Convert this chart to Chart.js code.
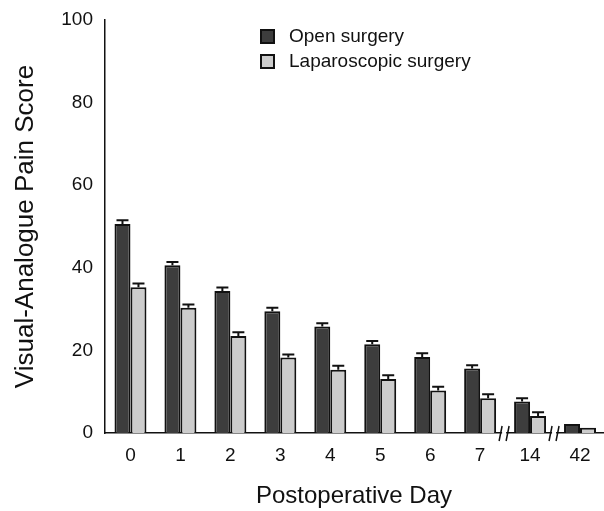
<!DOCTYPE html>
<html lang="en">
<head>
<meta charset="UTF-8">
<title>Visual-Analogue Pain Score</title>
<style>
  html,body{margin:0;padding:0;background:#fff}
  #wrap{width:604px;height:511px;position:relative}
</style>
</head>
<body>
<div id="wrap"><canvas id="painChart"></canvas></div>
<script src="https://cdn.jsdelivr.net/npm/chart.js@4.4.1"></script>
<script>
/* ---------- data ---------- */
const days      = ['0','1','2','3','4','5','6','7','14','42'];
const openMean  = [50.6, 40.6, 34.4, 29.5, 25.8, 21.5, 18.4, 15.6, 7.6, 2.2];
const openErr   = [0.9, 0.8, 0.8, 0.8, 0.8, 0.8, 0.9, 0.8, 0.8, 0];
const lapMean   = [35.3, 30.3, 23.5, 18.3, 15.3, 13.1, 10.3, 8.4, 4.1, 1.3];
const lapErr    = [0.9, 0.8, 0.9, 0.7, 1.0, 0.9, 0.9, 1.0, 0.9, 0];
const yTicks    = [0, 20, 40, 60, 80, 100];
const breaksAfter = [7, 8];   // axis breaks after these category indexes

const FONT = "'Liberation Sans', Arial, Helvetica, sans-serif";
const DARK  = '#3d3d3d';
const LIGHT = '#cccccc';

const toPoints = arr => arr.map((v, i) => ({x: i, y: v}));

/* upper error bars only, like the original */
const errorBarPlugin = {
  id:'errorBars',
  afterDatasetsDraw(chart){
    const {ctx} = chart;
    const y = chart.scales.y;
    const errs = [openErr, lapErr];
    const means = [openMean, lapMean];
    ctx.save();
    ctx.strokeStyle = '#111';
    ctx.lineWidth = 2;
    chart.data.datasets.forEach((ds, d)=>{
      chart.getDatasetMeta(d).data.forEach((bar, i)=>{
        const e = errs[d][i];
        if(!e) return;
        const top = y.getPixelForValue(means[d][i] + e);
        ctx.beginPath();
        ctx.moveTo(bar.x, bar.y);
        ctx.lineTo(bar.x, top);
        ctx.moveTo(bar.x - 6, top);
        ctx.lineTo(bar.x + 6, top);
        ctx.stroke();
      });
    });
    ctx.restore();
  }
};

/* axis break marks "//" */
const breakPlugin = {
  id:'axisBreaks',
  afterDraw(chart){
    const {ctx} = chart;
    const x = chart.scales.x;
    const yb = chart.chartArea.bottom;
    ctx.save();
    breaksAfter.forEach(i=>{
      const cx = x.getPixelForValue(i + 0.5) - 1;
      ctx.fillStyle = '#fff';
      ctx.fillRect(cx - 2, yb - 2, 4, 4);
      ctx.strokeStyle = '#111';
      ctx.lineWidth = 1.5;
      ctx.beginPath();
      ctx.moveTo(cx - 5, yb + 8); ctx.lineTo(cx - 2, yb - 7);
      ctx.moveTo(cx + 2, yb + 8); ctx.lineTo(cx + 5, yb - 7);
      ctx.stroke();
    });
    ctx.restore();
  }
};

/* legend drawn inside the plot, stacked */
const legendPlugin = {
  id:'innerLegend',
  afterDraw(chart){
    const {ctx} = chart;
    ctx.save();
    ctx.font = '19px ' + FONT;
    ctx.textBaseline = 'middle';
    chart.data.datasets.forEach((ds, d)=>{
      const top = 30 + d * 25;
      ctx.fillStyle = ds.backgroundColor;
      ctx.fillRect(261, top, 13, 13);
      ctx.strokeStyle = '#111';
      ctx.lineWidth = 2;
      ctx.strokeRect(261, top, 13, 13);
      ctx.fillStyle = '#111';
      ctx.fillText(ds.label, 289, top + 7);
    });
    ctx.restore();
  }
};

new Chart(document.getElementById('painChart'), {
  type:'bar',
  data:{
    datasets:[
      {label:'Open surgery', data: toPoints(openMean), backgroundColor: DARK,
       borderColor:'#111', borderWidth:2},
      {label:'Laparoscopic surgery', data: toPoints(lapMean), backgroundColor: LIGHT,
       borderColor:'#111', borderWidth:2}
    ]
  },
  options:{
    responsive:true,
    maintainAspectRatio:false,
    animation:false,
    categoryPercentage:0.64,
    barPercentage:1.0,
    layout:{padding:{top:20, right:1, left:0, bottom:0}},
    plugins:{legend:{display:false}, tooltip:{enabled:false}},
    scales:{
      x:{
        type:'linear',
        offset:false,
        min:-0.51, max:9.46,
        afterBuildTicks(s){ s.ticks = days.map((d, i)=>({value:i})); },
        grid:{display:false, drawTicks:false},
        border:{color:'#111', width:1.5},
        ticks:{color:'#111', font:{family:FONT, size:19}, padding:11,
               callback:v => days[v]},
        title:{display:true, text:'Postoperative Day', color:'#111',
               font:{family:FONT, size:24}, padding:0},
        afterFit(s){ s.height = 78; }
      },
      y:{
        min:0, max:100,
        afterBuildTicks(s){ s.ticks = yTicks.map(v=>({value:v})); },
        grid:{display:false, drawOnChartArea:false, drawTicks:true,
              tickLength:7, tickColor:'#111', tickWidth:1.5},
        border:{color:'#111', width:1.5},
        ticks:{color:'#111', font:{family:FONT, size:19}, padding:5},
        title:{display:true, text:'Visual-Analogue Pain Score', color:'#111',
               font:{family:FONT, size:26}, padding:{top:10, bottom:0}},
        afterFit(s){ s.width = 105; }
      }
    }
  },
  plugins:[errorBarPlugin, breakPlugin, legendPlugin]
});
</script>
</body>
</html>
